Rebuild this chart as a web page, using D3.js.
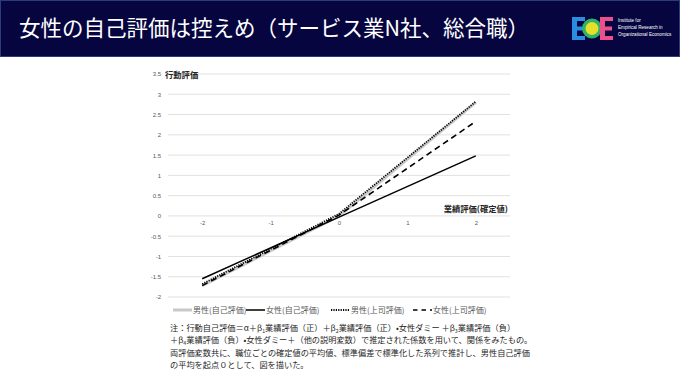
<!DOCTYPE html>
<html>
<head>
<meta charset="utf-8">
<script src="https://cdn.jsdelivr.net/npm/d3@7"></script>
<style>
  body { margin: 0; background: #fff; }
  svg { display: block; font-family: "Noto Sans CJK JP", "Noto Sans", sans-serif; }
</style>
</head>
<body>
<svg id="chart"></svg>
<script>
// chart values
let xVals = [-2, 0, 2]
let maleSelf = [-1.72, 0, 2.8]
let femaleSelf = [-1.55, -0.03, 1.48]
let maleBoss = [-1.68, 0.05, 2.82]
let femaleBoss = [-1.72, 0.02, 2.33]
let yTicks = [-2, -1.5, -1, -0.5, 0, 0.5, 1, 1.5, 2, 2.5, 3, 3.5]
let xTicks = [-2, -1, 0, 1, 2]
let seriesNames = ["男性(自己評価)", "女性(自己評価)", "男性(上司評価)", "女性(上司評価)"]

let width = 680
let height = 383

let svg = d3.select("#chart").attr("width", width).attr("height", height)

// header band
svg.append("rect")
    .attr("x", 0.5).attr("y", 0.5)
    .attr("width", width - 1).attr("height", 56)
    .attr("fill", "#06053f")
    .attr("stroke", "#2c3b7c")

svg.append("text")
    .attr("x", 19).attr("y", 36)
    .attr("fill", "#fff")
    .attr("font-size", 21.5)
    .text("女性の自己評価は控えめ（サービス業N社、総合職）")

// logo
let logo = svg.append("g").attr("transform", "translate(572,17)")
logo.append("path")
    .attr("d", "M0,0 H13 V4 H5 V9.5 H12 V13.5 H5 V19 H13 V23 H0 Z")
    .attr("fill", "#2a8de0")
logo.append("circle").attr("cx", 20).attr("cy", 11.5).attr("r", 10).attr("fill", "#2fb36a")
logo.append("circle").attr("cx", 20).attr("cy", 11.5).attr("r", 6.5).attr("fill", "#e6e02a")
logo.append("path")
    .attr("d", "M28,0 H41 V4 H33 V9.5 H40 V13.5 H33 V19 H41 V23 H28 Z")
    .attr("fill", "#ec4f8c")
let logoText = ["Institute for", "Empirical Research in", "Organizational Economics"]
logoText.forEach((t, i) => {
    logo.append("text")
        .attr("x", 46).attr("y", 4.5 + i * 7)
        .attr("fill", "#fff")
        .attr("font-size", 4.6)
        .attr("font-family", "Liberation Sans, sans-serif")
        .text(t)
})

// scales
let xScale = d3.scaleLinear().domain([-2.5, 2.5]).range([168, 510])
let yScale = d3.scaleLinear().domain([-2, 3.5]).range([297, 74])

// gridlines
svg.append("g")
    .selectAll("line")
    .data(yTicks)
    .enter()
    .append("line")
    .attr("x1", xScale(-2.5)).attr("x2", xScale(2.5))
    .attr("y1", (d) => yScale(d)).attr("y2", (d) => yScale(d))
    .attr("stroke", "#d9d9d9")
    .attr("stroke-width", 0.8)

// y axis labels
let yAxis = d3.axisLeft(yScale).tickValues(yTicks).tickSize(0).tickPadding(0)
    .tickFormat((d) => String(d))
let gy = svg.append("g").attr("transform", "translate(161,0)").call(yAxis)
gy.select(".domain").remove()
gy.selectAll("text")
    .attr("fill", "#595959")
    .attr("font-size", 6)
    .attr("font-family", "Liberation Sans, sans-serif")

// x axis labels (sit just under the zero line)
let xAxis = d3.axisBottom(xScale).tickValues(xTicks).tickSize(0).tickPadding(0)
    .tickFormat((d) => String(d))
let gx = svg.append("g").attr("transform", "translate(0," + (yScale(0) + 5) + ")").call(xAxis)
gx.select(".domain").remove()
gx.selectAll("text")
    .attr("fill", "#595959")
    .attr("font-size", 6)
    .attr("font-family", "Liberation Sans, sans-serif")

// axis titles
svg.append("text")
    .attr("x", 165).attr("y", 77.5)
    .attr("font-size", 8.3).attr("font-weight", "bold").attr("fill", "#262626")
    .text("行動評価")
svg.append("text")
    .attr("x", 508).attr("y", 211.5)
    .attr("text-anchor", "end")
    .attr("font-size", 8.3).attr("font-weight", "bold").attr("fill", "#262626")
    .text("業績評価(確定値)")

// series lines
let styles = [
    { color: "#c9c9c9", w: 3, dash: null },
    { color: "#000", w: 1.5, dash: null },
    { color: "#000", w: 1.8, dash: "1.2,1.2" },
    { color: "#000", w: 1.6, dash: "6,4" }
]
let allSeries = [maleSelf, femaleSelf, maleBoss, femaleBoss]

let line = d3.line()
    .x((d) => xScale(d[0]))
    .y((d) => yScale(d[1]))

allSeries.forEach((vals, i) => {
    svg.append("path")
        .datum(xVals.map((x, j) => [x, vals[j]]))
        .attr("d", line)
        .attr("fill", "none")
        .attr("stroke", styles[i].color)
        .attr("stroke-width", styles[i].w)
        .attr("stroke-dasharray", styles[i].dash)
})

// legend
let legendX = [173, 246, 331, 413]
let legend = svg.append("g")
seriesNames.forEach((name, i) => {
    let lx = legendX[i]
    legend.append("line")
        .attr("x1", lx).attr("x2", lx + 19)
        .attr("y1", 310).attr("y2", 310)
        .attr("stroke", styles[i].color)
        .attr("stroke-width", styles[i].w)
        .attr("stroke-dasharray", i == 3 ? "4.5,4" : styles[i].dash)
    legend.append("text")
        .attr("x", lx + 20).attr("y", 313)
        .attr("font-size", 8).attr("fill", "#595959")
        .text(name)
})

// footnote, subscripts shifted down then back up on the next piece
let note = svg.append("g").attr("font-size", 8.2).attr("fill", "#262626")
let addLine = (y, parts) => {
    let t = note.append("text").attr("x", 170).attr("y", y)
    let shifted = false
    parts.forEach((p) => {
        if (typeof p === "string") {
            t.append("tspan").attr("dy", shifted ? -1.8 : 0).text(p)
            shifted = false
        } else {
            t.append("tspan").attr("dy", 1.8).attr("font-size", 5.2).text(p.sub)
            shifted = true
        }
    })
}
addLine(331, ["注：行動自己評価＝α＋β", { sub: "1" }, "業績評価（正）＋β", { sub: "2" },
    "業績評価（正）•女性ダミー ＋β", { sub: "3" }, "業績評価（負）"])
addLine(343, ["＋β", { sub: "4" }, "業績評価（負）•女性ダミー＋（他の説明変数）で推定された係数を用いて、関係をみたもの。"])
addLine(356, ["両評価変数共に、職位ごとの確定値の平均値、標準偏差で標準化した系列で推計し、男性自己評価"])
addLine(368, ["の平均を起点０として、図を描いた。"])
</script>
</body>
</html>
